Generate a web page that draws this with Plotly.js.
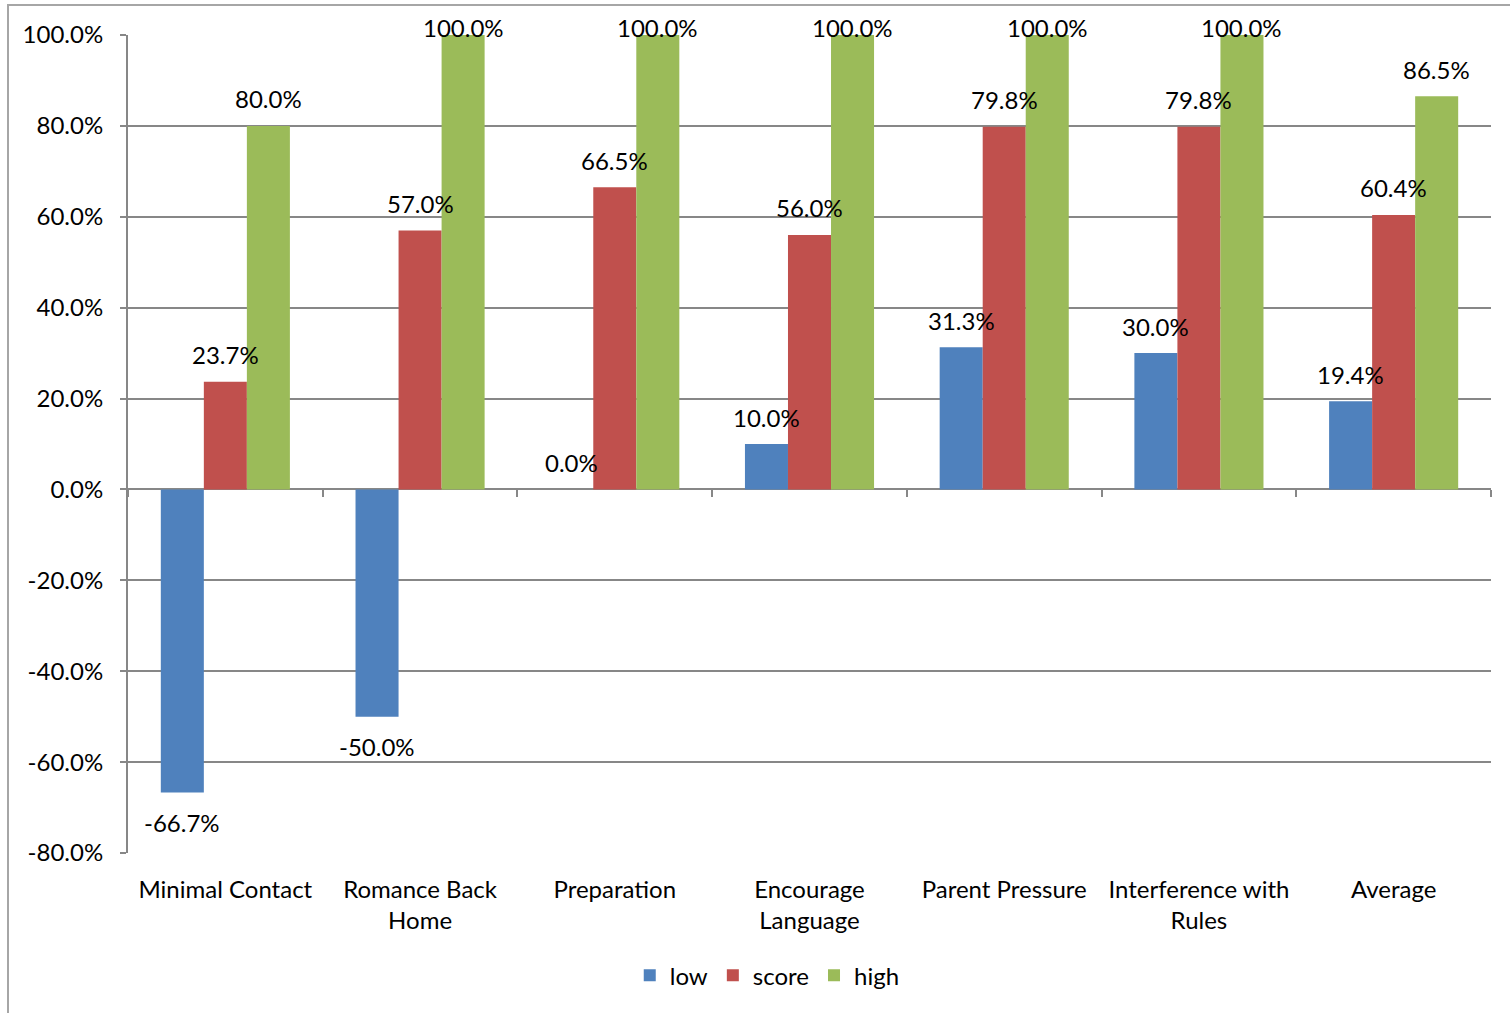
<!DOCTYPE html>
<html>
<head>
<meta charset="utf-8">
<script src="https://cdn.plot.ly/plotly-3.0.1.min.js"></script>
<style>html,body{margin:0;padding:0;background:#fff;}#chart{width:1510px;height:1013px;}</style>
</head>
<body>
<div id="chart"></div>
<script>
const categories = ["Minimal Contact", "Romance Back<br>Home", "Preparation", "Encourage<br>Language", "Parent Pressure", "Interference with<br>Rules", "Average"];
const lowValues = [-0.667, -0.500, 0.000, 0.100, 0.313, 0.300, 0.194];
const scoreValues = [0.237, 0.570, 0.665, 0.560, 0.798, 0.798, 0.604];
const highValues = [0.800, 1.000, 1.000, 1.000, 1.000, 1.000, 0.865];
const seriesNames = ["low", "score", "high"];
const yTickValues = [-0.8, -0.6, -0.4, -0.2, 0, 0.2, 0.4, 0.6, 0.8, 1.0];
const yTickLabels = ["-80.0%", "-60.0%", "-40.0%", "-20.0%", "0.0%", "20.0%", "40.0%", "60.0%", "80.0%", "100.0%"];

const colors = ["#4F81BD", "#C0504D", "#9BBB59"];
const FONT = "Lato, 'Open Sans', sans-serif";
const FS = 24;

const W = 1510, H = 1013;
const M = {l: 128, r: 19, t: 35, b: 160};
const yMin = -0.8, yMax = 1.0;
const plotH = H - M.t - M.b;
const plotW = W - M.l - M.r;
const catW = plotW / categories.length;
const bargap = 0.337;
const barW = catW * (1 - bargap) / 3;

const seriesValues = [lowValues, scoreValues, highValues];
const traces = seriesValues.map((vals, i) => ({
  type: "bar",
  name: seriesNames[i],
  x: categories,
  y: vals,
  marker: {color: colors[i], line: {width: 0}},
  hoverinfo: "x+y"
}));
traces.push({
  type: "scatter", mode: "markers", x: categories, y: categories.map(() => 0),
  xaxis: "x2", yaxis: "y", marker: {opacity: 0}, showlegend: false, hoverinfo: "skip"
});

// data labels (outside end, on top of all bars)
const annotations = [];
const pxPerUnit = plotH / (yMax - yMin);
seriesValues.forEach((vals, i) => {
  vals.forEach((v, j) => {
    const py = M.t + (yMax - v) * pxPerUnit;
    let shift;
    if (v >= 0) {
      const center = Math.max(py - 27, 27);
      shift = py - center;
    } else {
      shift = -30;
    }
    annotations.push({
      xref: "x", yref: "y", x: categories[j], y: v,
      xshift: (i - 1) * barW, yshift: shift,
      text: (v * 100).toFixed(1) + "%",
      showarrow: false, xanchor: "center", yanchor: "middle",
      font: {family: FONT, size: FS, color: "#000"}
    });
  });
});

const layout = {
  width: W, height: H,
  margin: M,
  paper_bgcolor: "#fff", plot_bgcolor: "#fff",
  font: {family: FONT, size: FS, color: "#000"},
  barmode: "group",
  bargap: bargap,
  bargroupgap: 0,
  showlegend: true,
  legend: {
    orientation: "h", x: 0.469, xanchor: "center", y: -0.15, yanchor: "middle",
    font: {family: FONT, size: FS, color: "#000"}, itemwidth: 30, traceorder: "normal"
  },
  annotations: annotations,
  xaxis: {
    type: "category",
    anchor: "free",
    position: (0 - yMin) / (yMax - yMin),
    showline: false, showgrid: false, zeroline: false,
    ticks: "outside", tickson: "boundaries", ticklen: 7, tickwidth: 2, tickcolor: "#878787",
    showticklabels: false
  },
  xaxis2: {
    type: "category",
    overlaying: "x",
    matches: "x",
    anchor: "y",
    side: "bottom",
    showline: false, showgrid: false, zeroline: false,
    ticks: "",
    showticklabels: true,
    ticklabelstandoff: 20,
    tickfont: {family: FONT, size: FS, color: "#000"}
  },
  yaxis: {
    range: [yMin, yMax],
    tickvals: yTickValues,
    ticktext: yTickLabels,
    showgrid: true, gridcolor: "#878787", gridwidth: 2,
    zeroline: true, zerolinecolor: "#878787", zerolinewidth: 2,
    showline: true, linecolor: "#878787", linewidth: 2,
    ticks: "outside", ticklen: 6, tickwidth: 2, tickcolor: "#878787",
    ticklabelstandoff: 12,
    tickfont: {family: FONT, size: FS, color: "#000"}
  },
  shapes: [{
    type: "rect", xref: "paper", yref: "paper",
    x0: (8 - M.l) / plotW, x1: 1.05, y0: -0.25, y1: (H - M.b - 5) / plotH,
    line: {color: "#a6a6a6", width: 2}, fillcolor: "rgba(0,0,0,0)", layer: "below"
  }]
};

Plotly.newPlot("chart", traces, layout, {displayModeBar: false, staticPlot: true});
</script>
</body>
</html>
